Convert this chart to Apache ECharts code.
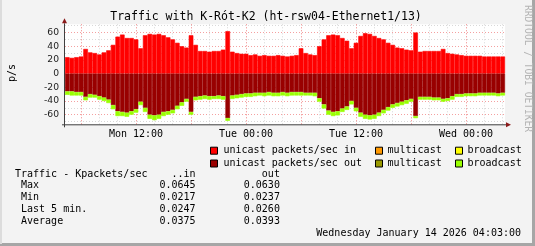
<!DOCTYPE html>
<html><head><meta charset="utf-8">
<script src="https://cdn.jsdelivr.net/npm/echarts@6/dist/echarts.min.js"></script>
<style>html,body{margin:0;padding:0;background:#f3f3f3}#c{width:535px;height:246px}</style>
</head><body><div id="c"></div>
<script>
// time axis: hours since Monday 00:00, one sample every half hour
const startHour = 4.25;
const stepHour = 0.5;
const endHour = 52.25;
const xLabelHours = [12, 24, 36, 48];
const xLabelText = ['Mon 12:00', 'Tue 00:00', 'Tue 12:00', 'Wed 00:00'];
const yLabelValues = [-60, -40, -20, 0, 20, 40, 60];
const hGridValues = [-70,-60,-50,-40,-30,-20,-10,0,10,20,30,40,50,60,70];
const vGridHours = [6,8,10,12,14,16,18,20,22,24,26,28,30,32,34,36,38,40,42,44,46,48,50,52];

const unicastIn = [24,23,24,25,36,31,30,28,31,34,42,54,57,52,52,50,37,56,58,57,58,56,53,50,45,40,38,56,42,33,33,32,33,33,35,62,32,30,29,29,27,28,26,27,26,26,27,26,25,26,27,37,30,28,27,40,50,56,57,56,52,48,37,45,55,59,58,55,52,50,45,42,38,37,35,34,60,32,33,33,33,33,36,30,29,28,27,26,26,26,26,25,25,25,25,25];
const unicastOut = [26,26,27,27,34,30,31,33,35,38,46,55,56,57,55,52,41,50,60,61,60,56,55,53,47,42,37,56,34,33,32,33,33,32,33,65,32,31,30,29,29,28,28,28,27,28,28,27,28,27,27,27,28,28,28,36,45,54,56,55,51,48,40,50,57,60,61,60,57,53,49,45,43,41,39,37,62,34,34,34,35,35,37,36,33,30,30,29,29,29,28,28,28,28,29,28];
const broadcastOut = [5,6,5,5,5,5,4,5,5,5,6,7,6,6,5,5,5,6,6,7,6,6,5,5,5,5,4,4,5,5,5,5,4,5,5,4,5,5,5,5,5,5,4,5,5,5,5,5,5,5,5,5,4,4,5,5,6,6,6,6,5,5,5,5,6,6,6,6,5,5,5,5,5,5,5,4,3,4,4,4,4,4,4,4,5,4,4,4,4,4,4,4,4,4,4,4];
const sampleTimes = unicastIn.map((_, i) => startHour + stepHour * i);

const tableLines = [
  'Traffic - Kpackets/sec    ..in           out',
  ' Max                    0.0645        0.0630',
  ' Min                    0.0217        0.0237',
  ' Last 5 min.            0.0247        0.0260',
  ' Average                0.0375        0.0393'
];
const legendRows = [
  [['#ff0000','unicast packets/sec in'],['#ff9900','multicast'],['#ffff00','broadcast']],
  [['#990000','unicast packets/sec out'],['#999900','multicast'],['#99ff00','broadcast']]
];

const MONO = '"DejaVu Sans Mono", monospace';
const chart = echarts.init(document.getElementById('c'), null, {renderer: 'canvas'});

const G = {left:65, top:24.3, width:440, height:100};
const gBottom = G.top + G.height, gRight = G.left + G.width;
const graphics = [];
graphics.push({type:'rect', shape:{x:532,y:0,width:3,height:246}, style:{fill:'#a6a6a6'}, z:-9});
graphics.push({type:'rect', shape:{x:0,y:243,width:535,height:3}, style:{fill:'#a6a6a6'}, z:-9});
graphics.push({type:'rect', shape:{x:0,y:0,width:2,height:244}, style:{fill:'#dcdcdc'}, z:-9});
graphics.push({type:'text', x:266, y:17, style:{text:'Traffic with K-Rót-K2 (ht-rsw04-Ethernet1/13)', font:'11.5px '+MONO, fill:'#000', align:'center', verticalAlign:'middle'}});
graphics.push({type:'text', x:12, y:73, rotation:Math.PI/2, style:{text:'p/s', font:'10px '+MONO, fill:'#000', align:'center', verticalAlign:'middle'}});
graphics.push({type:'text', x:527, y:5, rotation:-Math.PI/2, style:{text:'RRDTOOL / TOBI OETIKER', font:'9.6px '+MONO, fill:'#b4b4b4', align:'left', verticalAlign:'middle'}});
// axis lines with arrows (decoration)
graphics.push({type:'line', shape:{x1:G.left-3, y1:gBottom+0.5, x2:gRight+2, y2:gBottom+0.5}, style:{stroke:'#404040', lineWidth:1}, z:20});
graphics.push({type:'line', shape:{x1:G.left-0.5, y1:gBottom+3, x2:G.left-0.5, y2:G.top-1}, style:{stroke:'#404040', lineWidth:1}, z:20});
graphics.push({type:'polygon', shape:{points:[[gRight+1,gBottom-2],[gRight+6,gBottom+0.5],[gRight+1,gBottom+3]]}, style:{fill:'#8b1a1a'}, z:20});
graphics.push({type:'polygon', shape:{points:[[G.left-3,G.top-1],[G.left-0.5,G.top-6],[G.left+2,G.top-1]]}, style:{fill:'#8b1a1a'}, z:20});
const legX = [[210.5,223.5],[375.5,387.5],[455.5,467.5]];
const legY = [150.7, 163.5];
legendRows.forEach((row, r) => row.forEach((it, c) => {
  graphics.push({type:'rect', shape:{x:legX[c][0], y:legY[r]-3.5, width:7, height:7}, style:{fill:it[0], stroke:'#000', lineWidth:1}});
  graphics.push({type:'text', x:legX[c][1], y:legY[r], style:{text:it[1], font:'10px '+MONO, fill:'#000', verticalAlign:'middle'}});
}));
const tabY = [174, 185.5, 197.2, 209.3, 221.4];
tableLines.forEach((t, i) => graphics.push({type:'text', x:15, y:tabY[i], style:{text:t, font:'10px '+MONO, fill:'#000', verticalAlign:'middle'}}));
graphics.push({type:'text', x:521, y:233.5, style:{text:'Wednesday January 14 2026 04:03:00', font:'10px '+MONO, fill:'#000', align:'right', verticalAlign:'middle'}});

const barSeries = (name, data, color) => ({
  name, type:'bar', data, stack:'all', stackStrategy:'samesign', xAxisIndex:0, yAxisIndex:0,
  barWidth:'100%', barCategoryGap:'0%', barGap:'0%',
  itemStyle:{color, borderColor:color, borderWidth:0.6}, z:10, silent:true, animation:false
});

chart.setOption({
  animation:false,
  backgroundColor:'#f3f3f3',
  graphic: graphics,
  grid:{left:G.left, top:G.top, width:G.width, height:G.height, show:true, backgroundColor:'#ffffff', borderWidth:0},
  xAxis:[
    {type:'category', data:sampleTimes, boundaryGap:true, show:false},
    {type:'value', min:startHour, max:endHour, interval:0.25, position:'bottom',
      axisLine:{show:false, onZero:false},
      axisTick:{show:false}, splitLine:{show:false},
      axisLabel:{margin:5, fontFamily:'DejaVu Sans Mono', fontSize:10, color:'#000',
        formatter: v => { const k = xLabelHours.findIndex(h => Math.abs(h - v) < 1e-6); return k >= 0 ? xLabelText[k] : ''; }}}
  ],
  yAxis:{type:'value', min:-74, max:72, interval:2,
    axisLine:{show:false, onZero:false},
    axisTick:{show:false}, splitLine:{show:false},
    axisLabel:{margin:6, fontFamily:'DejaVu Sans', fontSize:9.2, color:'#222',
      formatter: v => yLabelValues.includes(v) ? String(v) : ''}},
  series:[
    {type:'line', data:[], xAxisIndex:1, silent:true, z:1,
      markLine:{silent:true, z:1, symbol:'none', label:{show:false}, animation:false,
        data: hGridValues.map(v => ({yAxis:v, lineStyle:{color: (v % 20 === 0) ? '#f4a0a0' : '#d8d8d8', type:[1,2], width:1}}))
          .concat(vGridHours.map(h => ({xAxis:h, lineStyle:{color: (h % 6 === 0) ? '#f08080' : '#d8d8d8', type:[1,2], width:1}})))}},
    barSeries('unicast packets/sec in', unicastIn, '#ff0000'),
    barSeries('unicast packets/sec out', unicastOut.map(v => -v), '#990000'),
    barSeries('broadcast out', broadcastOut.map(v => -v), '#99ff00')
  ]
});
</script></body></html>
